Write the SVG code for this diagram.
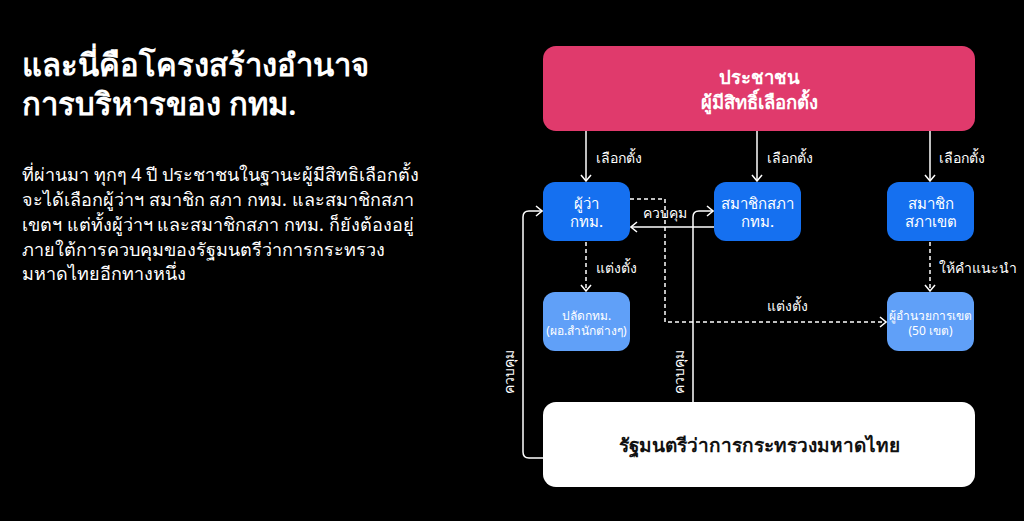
<svg xmlns="http://www.w3.org/2000/svg" width="1024" height="521" viewBox="0 0 1024 521">
<style>
text{font-family:"Noto Sans",sans-serif;fill:#fff}
.title{font-size:31px;font-weight:600}
.para{font-size:18px}
.lbl{font-size:14px}
.bn{font-size:15px;text-anchor:middle;font-weight:500}
.ln{font-size:12px;text-anchor:middle}
.pk{font-size:18.5px;font-weight:600;text-anchor:middle}
.wt{font-size:19px;font-weight:600;text-anchor:middle;fill:#111}
.s{fill:none;stroke:#fff;stroke-width:1.5}
.d{fill:none;stroke:#fff;stroke-width:1.5;stroke-dasharray:4 3}
</style>
<defs>
<marker id="ah" viewBox="0 0 8 12" refX="7" refY="6" markerWidth="8" markerHeight="12" markerUnits="userSpaceOnUse" orient="auto">
<path d="M1,1 L7,6 L1,11" fill="none" stroke="#fff" stroke-width="1.5"/>
</marker>
</defs>
<rect width="1024" height="521" fill="#000"/>
<g id="heading">
<text class="title" x="22" y="76">และนี่คือโครงสร้างอำนาจ</text>
<text class="title" x="22" y="115">การบริหารของ กทม.</text>
</g>
<g id="paragraph">
<text class="para" x="22" y="181">ที่ผ่านมา ทุกๆ 4 ปี ประชาชนในฐานะผู้มีสิทธิเลือกตั้ง</text>
<text class="para" x="22" y="206">จะได้เลือกผู้ว่าฯ สมาชิก สภา กทม. และสมาชิกสภา</text>
<text class="para" x="22" y="231">เขตฯ แต่ทั้งผู้ว่าฯ และสมาชิกสภา กทม. ก็ยังต้องอยู่</text>
<text class="para" x="22" y="256">ภายใต้การควบคุมของรัฐมนตรีว่าการกระทรวง</text>
<text class="para" x="22" y="280">มหาดไทยอีกทางหนึ่ง</text>
</g>
<g id="connectors">
<line class="s" x1="586" y1="131" x2="586" y2="181" marker-end="url(#ah)"/>
<line class="s" x1="757" y1="131" x2="757" y2="181" marker-end="url(#ah)"/>
<line class="s" x1="930" y1="131" x2="930" y2="181" marker-end="url(#ah)"/>
<line class="d" x1="586" y1="242" x2="586" y2="291" marker-end="url(#ah)"/>
<line class="d" x1="930" y1="242" x2="930" y2="291" marker-end="url(#ah)"/>
<path class="d" d="M630,199 H665 V322 H886" marker-end="url(#ah)"/>
<line class="s" x1="714" y1="227" x2="631" y2="227" marker-end="url(#ah)"/>
<path class="s" d="M543,458 H529 Q523,458 523,452 V217 Q523,211 529,211 H542" marker-end="url(#ah)"/>
<path class="s" d="M693,402 V217 Q693,211 699,211 H713" marker-end="url(#ah)"/>
<text class="lbl" x="596" y="163">เลือกตั้ง</text>
<text class="lbl" x="767" y="163">เลือกตั้ง</text>
<text class="lbl" x="939" y="163">เลือกตั้ง</text>
<text class="lbl" x="596" y="273">แต่งตั้ง</text>
<text class="lbl" x="939" y="273">ให้คำแนะนำ</text>
<text class="lbl" x="767" y="311">แต่งตั้ง</text>
<text class="lbl" x="643" y="218">ควบคุม</text>
<text class="lbl" transform="translate(514,394) rotate(-90)">ควบคุม</text>
<text class="lbl" transform="translate(684,394) rotate(-90)">ควบคุม</text>
</g>
<g id="citizens">
<rect x="543" y="46" width="432" height="85" rx="13" fill="#E03A6C"/>
<text class="pk" x="759" y="84">ประชาชน</text>
<text class="pk" x="759" y="109">ผู้มีสิทธิ์เลือกตั้ง</text>
</g>
<g id="governor">
<rect x="543" y="182" width="87" height="59" rx="12" fill="#1570F0"/>
<text class="bn" x="586.5" y="209">ผู้ว่า</text>
<text class="bn" x="586.5" y="227">กทม.</text>
</g>
<g id="council">
<rect x="714" y="182" width="87" height="59" rx="12" fill="#1570F0"/>
<text class="bn" x="757.5" y="209">สมาชิกสภา</text>
<text class="bn" x="757.5" y="227">กทม.</text>
</g>
<g id="district-council">
<rect x="887" y="182" width="87" height="59" rx="12" fill="#1570F0"/>
<text class="bn" x="930.5" y="209">สมาชิก</text>
<text class="bn" x="930.5" y="227">สภาเขต</text>
</g>
<g id="permanent-secretary">
<rect x="543" y="292" width="87" height="59" rx="12" fill="#60A0F8"/>
<text class="ln" x="586.5" y="320">ปลัดกทม.</text>
<text class="ln" x="586.5" y="335">(ผอ.สำนักต่างๆ)</text>
</g>
<g id="district-director">
<rect x="887" y="292" width="87" height="59" rx="12" fill="#60A0F8"/>
<text class="ln" x="930.5" y="320">ผู้อำนวยการเขต</text>
<text class="ln" x="930.5" y="335">(50 เขต)</text>
</g>
<g id="interior-minister">
<rect x="543" y="402" width="432" height="85" rx="13" fill="#fff"/>
<text class="wt" x="759" y="452">รัฐมนตรีว่าการกระทรวงมหาดไทย</text>
</g>
</svg>
